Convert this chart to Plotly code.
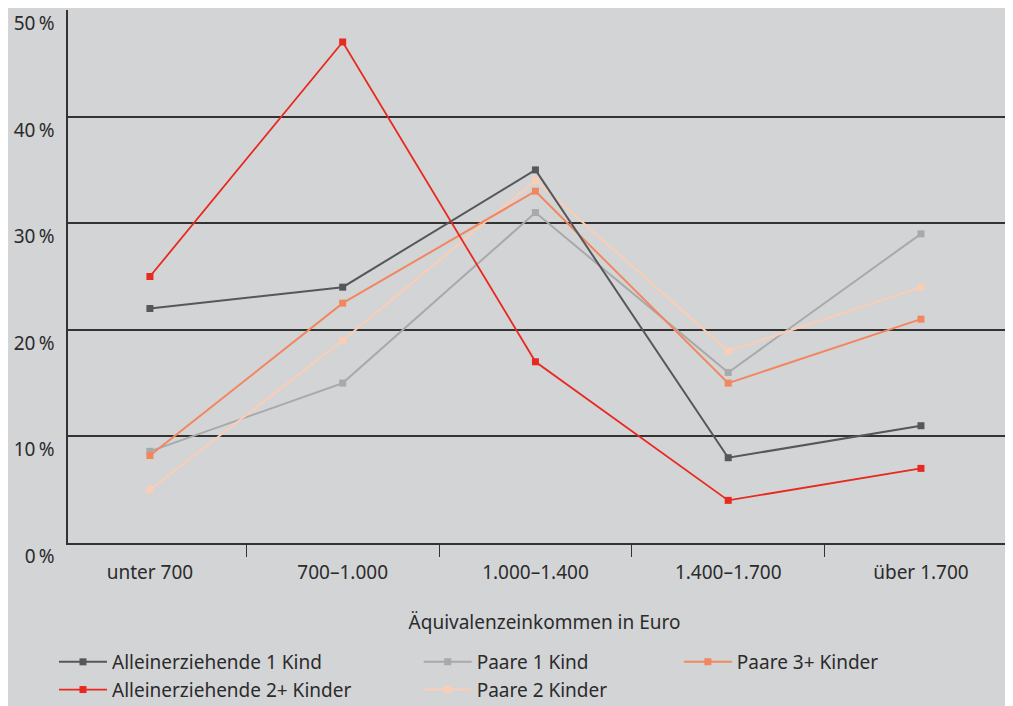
"""Armutsbetroffenheit nach Äquivalenzeinkommen - line chart"""
import plotly.graph_objects as go

BG = "#d3d4d6"
TEXT = "#2b2b2b"
FONT = "Noto Sans"

categories = ["unter 700", "700–1.000", "1.000–1.400", "1.400–1.700", "über 1.700"]

allein_1 = [22, 24, 35, 8, 11]
allein_2 = [25, 47, 17, 4, 7]
paare_1 = [8.6, 15, 31, 16, 29]
paare_2 = [5, 19, 34, 18, 24]
paare_3 = [8.2, 22.5, 33, 15, 21]

y_ticks = [0, 10, 20, 30, 40, 50]
y_labels = ["0\u2009%", "10\u2009%", "20\u2009%", "30\u2009%", "40\u2009%", "50\u2009%"]

series = [
    ("Paare 1 Kind", paare_1, "#a9a9aa", 2, "legend2"),
    ("Paare 2 Kinder", paare_2, "#fbcdb5", 2, "legend2"),
    ("Paare 3+ Kinder", paare_3, "#f2875f", 2, "legend3"),
    ("Alleinerziehende 1 Kind", allein_1, "#555759", 2, "legend"),
    ("Alleinerziehende 2+ Kinder", allein_2, "#e8291f", 1.8, "legend"),
]

fig = go.Figure()

for name, values, color, width, leg in series:
    fig.add_trace(go.Scatter(
        x=categories,
        y=values,
        mode="lines+markers",
        name=name,
        legend=leg,
        line=dict(color=color, width=width),
        marker=dict(symbol="square", size=7, color=color),
    ))

legend_common = dict(
    orientation="v",
    bgcolor="rgba(0,0,0,0)",
    font=dict(family=FONT, size=19, color=TEXT),
    yanchor="top",
    y=-0.1876,
    tracegroupgap=0,
    itemwidth=48,
    traceorder="normal",
)

fig.update_layout(
    width=1013,
    height=706,
    margin=dict(l=60, r=0, t=2, b=171, autoexpand=False),
    paper_bgcolor=BG,
    plot_bgcolor=BG,
    font=dict(family=FONT, size=19, color=TEXT),
    showlegend=True,
    legend=dict(x=-0.0147, xanchor="left", **legend_common),
    legend2=dict(x=0.368, xanchor="left", **legend_common),
    legend3=dict(x=0.641, xanchor="left", **legend_common),
    xaxis=dict(
        type="category",
        range=[-0.425, 4.519],
        showgrid=False,
        showline=True,
        linecolor="#333333",
        linewidth=1.5,
        ticks="outside",
        tickson="boundaries",
        ticklen=12,
        tickcolor="#333333",
        tickfont=dict(family=FONT, size=19, color=TEXT),
        ticklabelstandoff=11,
        title=dict(text="Äquivalenzeinkommen in Euro",
                   font=dict(family=FONT, size=19, color=TEXT), standoff=32),
        zeroline=False,
    ),
    yaxis=dict(
        range=[0, 50],
        tickvals=y_ticks,
        ticktext=y_labels,
        showgrid=True,
        gridcolor="#333333",
        gridwidth=1.5,
        showline=True,
        linecolor="#333333",
        linewidth=1.5,
        zeroline=False,
        ticks="",
        ticklabelposition="outside bottom",
        ticklabelstandoff=8,
        ticklabeloverflow="allow",
        tickfont=dict(family=FONT, size=19, color=TEXT),
    ),
)

fig.write_html("out.html")
